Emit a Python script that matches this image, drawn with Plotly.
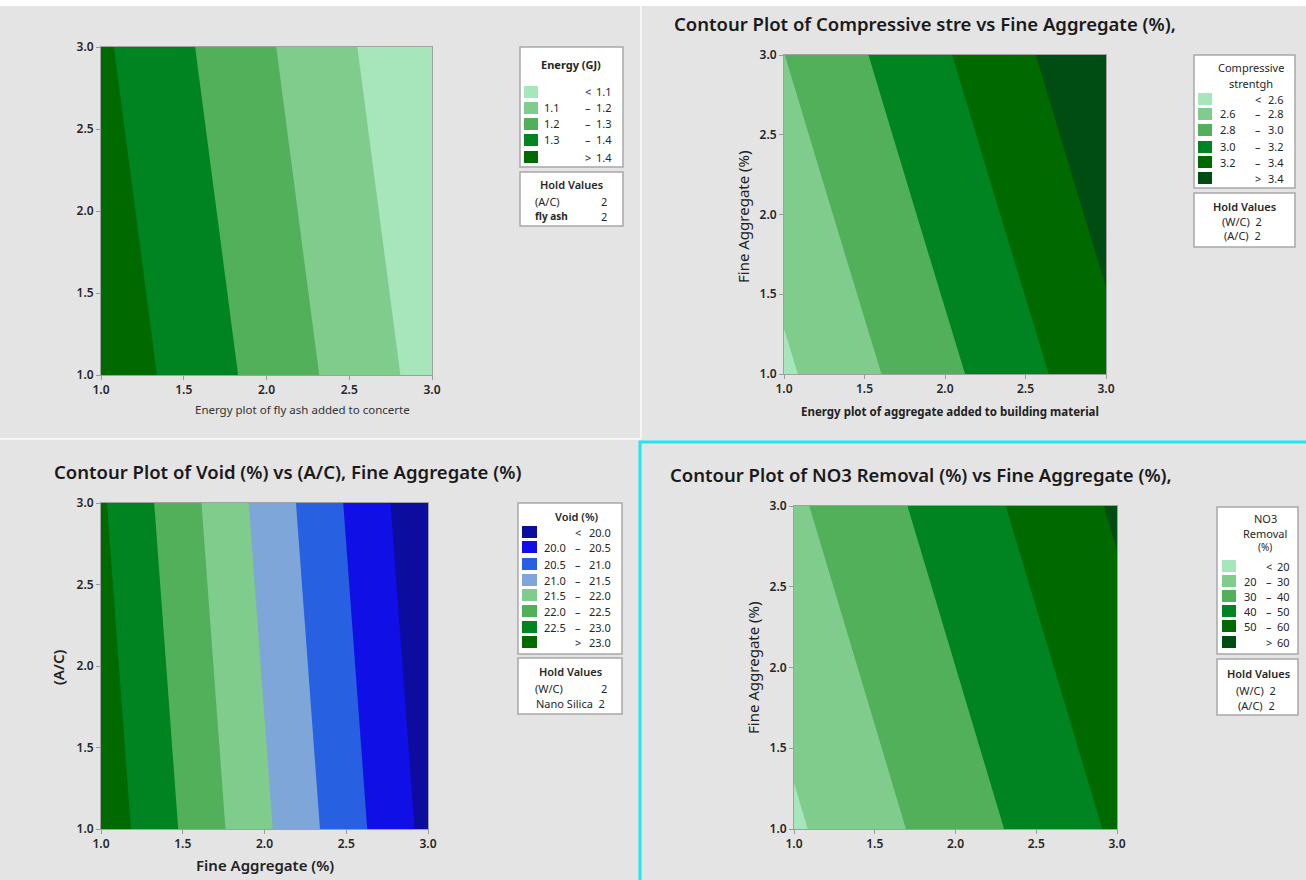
import plotly.graph_objects as go

W, H = 1306, 880

# ---------------- data ----------------
grid_x = [1.0, 2.0, 3.0]
grid_y = [1.0, 2.0, 3.0]

energy_z = [[1.469, 1.265, 1.061],
            [1.4425, 1.2385, 1.0345],
            [1.416, 1.212, 1.008]]
energy_levels = [1.1, 1.2, 1.3, 1.4]

comp_z = [[2.567, 2.952, 3.337],
          [2.683, 3.068, 3.453],
          [2.798, 3.183, 3.568]]
comp_levels = [2.6, 2.8, 3.0, 3.2, 3.4]

void_z = [[23.317, 21.587, 19.857],
          [23.190, 21.460, 19.730],
          [23.063, 21.333, 19.603]]
void_levels = [20.0, 20.5, 21.0, 21.5, 22.0, 22.5, 23.0]

no3_z = [[18.60, 35.05, 51.50],
         [23.52, 39.97, 56.42],
         [28.44, 44.89, 61.34]]
no3_levels = [20, 30, 40, 50, 60]

tick_vals = [1.0, 1.5, 2.0, 2.5, 3.0]
tick_text = ["1.0", "1.5", "2.0", "2.5", "3.0"]

# ---------------- styles ----------------
GREENS = ["#a7e6bb", "#7fcc8c", "#52b05a", "#008421", "#006a00", "#004d14"]
VOID_COLORS = ["#0c0c9e", "#1010e6", "#2760e0", "#7ea6d8", "#7fcc8c", "#52b05a", "#008421", "#006a00"]
BG = "#e4e4e4"
FONT = "Noto Sans, Open Sans, sans-serif"
TXT = "#262626"


def px(x):
    return x / W


def py(y):
    return 1 - y / H


fig = go.Figure()

panels = [
    ("", energy_z, energy_levels, GREENS[:5], (101, 432, 47, 375)),
    ("2", comp_z, comp_levels, GREENS[:6], (784, 1106, 55, 374)),
    ("3", void_z, void_levels, VOID_COLORS, (101, 428, 503, 829)),
    ("4", no3_z, no3_levels, GREENS[:6], (794, 1117, 506, 829)),
]

layout_axes = {}
for suf, z, lev, cols, (x0, x1, y0, y1) in panels:
    n = len(cols)
    cscale = [[k / (n - 1), c] for k, c in enumerate(cols)]
    size = lev[1] - lev[0]
    fig.add_trace(go.Contour(
        x=grid_x, y=grid_y, z=z,
        autocontour=False,
        contours=dict(start=lev[0], end=lev[-1], size=size, coloring="fill", showlines=False),
        colorscale=cscale, showscale=False, line=dict(width=0),
        hoverinfo="skip",
        xaxis="x" + suf, yaxis="y" + suf,
    ))
    ax = dict(range=[1, 3], tickvals=tick_vals, ticktext=tick_text,
              ticks="outside", ticklen=4, tickcolor="#9a9a9a", tickwidth=1,
              showline=True, linecolor="#a0a0a0", linewidth=1, mirror=True,
              showgrid=False, zeroline=False, automargin=False,
              tickfont=dict(family=FONT, size=12, color=TXT, weight=600))
    xa = dict(ax, domain=[px(x0), px(x1)], anchor="y" + suf)
    ya = dict(ax, domain=[py(y1), py(y0)], anchor="x" + suf)
    layout_axes["xaxis" + suf] = xa
    layout_axes["yaxis" + suf] = ya

shapes = []
annotations = []


def text(x, y, s, size=11, weight=400, xanchor="center", angle=0, color=TXT):
    annotations.append(dict(x=px(x), y=py(y), xref="paper", yref="paper", text=s,
                            showarrow=False, xanchor=xanchor, yanchor="middle",
                            textangle=angle,
                            font=dict(family=FONT, size=size, color=color, weight=weight)))


def box(x0, y0, x1, y1):
    shapes.append(dict(type="rect", xref="paper", yref="paper",
                       x0=px(x0), x1=px(x1), y0=py(y1), y1=py(y0),
                       fillcolor="white", line=dict(color="#a8a8a8", width=1.5)))


def swatch(x0, yc, w, h, color):
    shapes.append(dict(type="rect", xref="paper", yref="paper",
                       x0=px(x0), x1=px(x0 + w), y0=py(yc + h / 2), y1=py(yc - h / 2),
                       fillcolor=color, line=dict(width=0)))


def legend_rows(levels, dec):
    fmt = "{:.%df}" % dec
    rows = [("", "<", fmt.format(levels[0]))]
    for a, b in zip(levels[:-1], levels[1:]):
        rows.append((fmt.format(a), "–", fmt.format(b)))
    rows.append(("", ">", fmt.format(levels[-1])))
    return rows


# background separators / strips
shapes.append(dict(type="rect", xref="paper", yref="paper", x0=0, x1=1, y0=py(6), y1=1,
                   fillcolor="white", line=dict(width=0)))
shapes.append(dict(type="line", xref="paper", yref="paper", x0=px(641), x1=px(641), y0=py(438), y1=py(6),
                   line=dict(color="#f6f6f6", width=2)))
shapes.append(dict(type="line", xref="paper", yref="paper", x0=0, x1=px(641), y0=py(439), y1=py(439),
                   line=dict(color="#f6f6f6", width=2)))
shapes.append(dict(type="path", xref="paper", yref="paper",
                   path="M %f,%f L %f,%f L %f,%f" % (px(640), py(880), px(640), py(442), px(1306), py(442)),
                   line=dict(color="#1ee8ef", width=3)))

# ---------- legend 1: Energy ----------
box(520, 47, 623, 167)
text(571, 65, "Energy (GJ)", 11, 700)
ys = [92, 108, 124, 140, 157]
for (lo, sym, hi), yc, c in zip(legend_rows(energy_levels, 1), ys, GREENS[:5]):
    swatch(524, yc, 14, 12, c)
    text(552, yc, lo, 11)
    text(588, yc, sym, 11)
    text(614, yc, hi, 11, xanchor="right")
box(520, 172, 623, 226)
text(571, 184, "Hold Values", 11, 600)
text(533, 202, "(A/C)", 11, xanchor="left")
text(609, 202, "2", 11, xanchor="right")
text(533, 216, "fly ash", 10, 700, xanchor="left")
text(609, 216, "2", 11, xanchor="right")

# ---------- legend 2: Compressive ----------
box(1194, 55, 1295, 188)
text(1251, 67, "Compressive", 11, 400)
text(1251, 83, "strentgh", 11, 400)
ys = [99, 114, 130, 147, 162, 178]
for (lo, sym, hi), yc, c in zip(legend_rows(comp_levels, 1), ys, GREENS[:6]):
    swatch(1198, yc, 14, 12, c)
    text(1218, yc, lo, 11, xanchor="left")
    text(1258, yc, sym, 11)
    text(1286, yc, hi, 11, xanchor="right")
box(1194, 193, 1295, 247)
text(1244, 206, "Hold Values", 11, 600)
text(1242, 221, "(W/C)&nbsp;&nbsp;2", 11)
text(1242, 235, "(A/C)&nbsp;&nbsp;2", 11)

# ---------- legend 3: Void ----------
box(518, 503, 622, 654)
text(577, 516, "Void (%)", 11, 600)
ys = [532, 547, 564, 580, 595, 611, 627, 642]
for (lo, sym, hi), yc, c in zip(legend_rows(void_levels, 1), ys, VOID_COLORS):
    swatch(522, yc, 15, 12, c)
    text(555, yc, lo, 11)
    text(578, yc, sym, 11)
    text(613, yc, hi, 11, xanchor="right")
box(518, 658, 622, 714)
text(570, 671, "Hold Values", 11, 600)
text(533, 688, "(W/C)", 11, xanchor="left")
text(609, 688, "2", 11, xanchor="right")
text(570, 703, "Nano Silica&nbsp;&nbsp;2", 11)

# ---------- legend 4: NO3 ----------
box(1217, 507, 1298, 654)
text(1265, 518, "NO3", 11)
text(1265, 533, "Removal", 11)
text(1265, 547, "(%)", 10)
ys = [566, 581, 596, 611, 626, 642]
for (lo, sym, hi), yc, c in zip(legend_rows(no3_levels, 0), ys, GREENS[:6]):
    swatch(1222, yc, 14, 12, c)
    text(1242, yc, lo, 11, xanchor="left")
    text(1269, yc, sym, 11)
    text(1292, yc, hi, 11, xanchor="right")
box(1217, 659, 1298, 715)
text(1258, 673, "Hold Values", 11, 600)
text(1256, 690, "(W/C)&nbsp;&nbsp;2", 11)
text(1256, 705, "(A/C)&nbsp;&nbsp;2", 11)

# ---------- titles & axis labels ----------
text(672, 24, "Contour Plot of Compressive stre vs Fine Aggregate (%),", 18.5, 600, xanchor="left", color="#1a1a1a")
text(52, 471, "Contour Plot of Void (%) vs (A/C), Fine Aggregate (%)", 18.5, 600, xanchor="left", color="#1a1a1a")
text(668, 474, "Contour Plot of NO3 Removal (%) vs Fine Aggregate (%),", 18.5, 600, xanchor="left", color="#1a1a1a")

text(302, 409, "Energy plot of fly ash added to concerte", 11.5, 400, color="#333")
text(950, 411, "Energy plot of aggregate added to building material", 11.5, 700, color="#222")
text(743, 217, "Fine Aggregate (%)", 15, 400, angle=-90, color="#222")
text(265, 865, "Fine Aggregate (%)", 15, 600, color="#222")
text(58, 668, "(A/C)", 15, 600, angle=-90, color="#222")
text(753, 668, "Fine Aggregate (%)", 15, 400, angle=-90, color="#222")

fig.update_layout(
    template="none",
    width=W, height=H, autosize=False,
    margin=dict(l=0, r=0, t=0, b=0, pad=0),
    paper_bgcolor=BG, plot_bgcolor=BG,
    showlegend=False,
    shapes=shapes, annotations=annotations,
    **layout_axes,
)

fig.write_html("out.html", config={"displayModeBar": False},
               post_script="document.body.style.margin='0';document.body.style.overflow='hidden';")
